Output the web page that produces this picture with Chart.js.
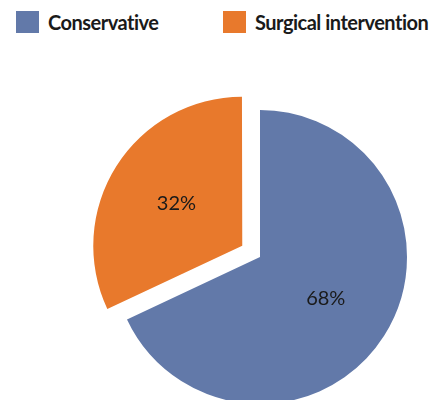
<!DOCTYPE html>
<html>
<head>
<meta charset="utf-8">
<script src="https://cdn.jsdelivr.net/npm/chart.js@4/dist/chart.umd.min.js"></script>
<style>
    html, body { margin: 0; padding: 0; background: #ffffff; overflow: hidden; }
    #wrap { position: relative; width: 435px; height: 400px; }
    #legend { position: absolute; left: 0; top: 10px; width: 435px; height: 24px; font-family: Lato, 'Open Sans', sans-serif; }
    .item { position: absolute; top: 0; display: flex; align-items: center; white-space: nowrap; }
    .box { width: 23px; height: 22px; margin-right: 9px; flex: none; }
    .txt { font-size: 20px; font-weight: 700; color: #1a1a1a; letter-spacing: -0.5px; }
    canvas { position: absolute; left: 0; top: 0; }
</style>
</head>
<body>
<div id="wrap">
    <div id="legend"></div>
    <canvas id="pieChart" width="435" height="400"></canvas>
</div>
<script>
// ====================================================
// Data
// ====================================================
const categories = ['Conservative', 'Surgical intervention'];
const shares     = [68, 32];
const colors     = ['#6279a9', '#e8792c'];
const explodePx  = [0, 21];          // how far each slice is pulled out
const legendLeft = [16, 223];

// Chart.js draws an arc's offset at 1/4 of the option value
const arcOffsets = explodePx.map(v => v * 4);

// Percent labels inside each slice
const sliceLabels = {
    id: 'sliceLabels',
    afterDatasetsDraw(chart) {
        const ctx = chart.ctx;
        const meta = chart.getDatasetMeta(0);
        ctx.save();
        ctx.font = '20px Lato, "Open Sans", sans-serif';
        ctx.fillStyle = '#1a1a1a';
        ctx.textAlign = 'center';
        ctx.textBaseline = 'middle';
        meta.data.forEach((arc, i) => {
            const p = arc.getProps(['x', 'y', 'startAngle', 'endAngle', 'outerRadius'], true);
            const mid = (p.startAngle + p.endAngle) / 2;
            const r = explodePx[i] + p.outerRadius * 0.53;
            ctx.fillText(shares[i] + '%', p.x + Math.cos(mid) * r, p.y + Math.sin(mid) * r);
        });
        ctx.restore();
    }
};

const chart = new Chart(document.getElementById('pieChart'), {
    type: 'pie',
    data: {
        labels: categories,
        datasets: [{
            data: shares,
            backgroundColor: colors,
            borderWidth: 0,
            offset: arcOffsets,
            clip: false
        }]
    },
    options: {
        responsive: false,
        animation: false,
        radius: 147,
        layout: { padding: { left: 85, right: 0, top: 114, bottom: 0 } },
        plugins: {
            legend: { display: false },
            tooltip: { enabled: false }
        }
    },
    plugins: [sliceLabels]
});

// HTML legend built from the chart's own data
const legendEl = document.getElementById('legend');
chart.data.labels.forEach((label, i) => {
    const item = document.createElement('div');
    item.className = 'item';
    item.style.left = legendLeft[i] + 'px';
    const box = document.createElement('span');
    box.className = 'box';
    box.style.background = colors[i];
    const txt = document.createElement('span');
    txt.className = 'txt';
    txt.textContent = label;
    item.appendChild(box);
    item.appendChild(txt);
    legendEl.appendChild(item);
});
</script>
</body>
</html>
